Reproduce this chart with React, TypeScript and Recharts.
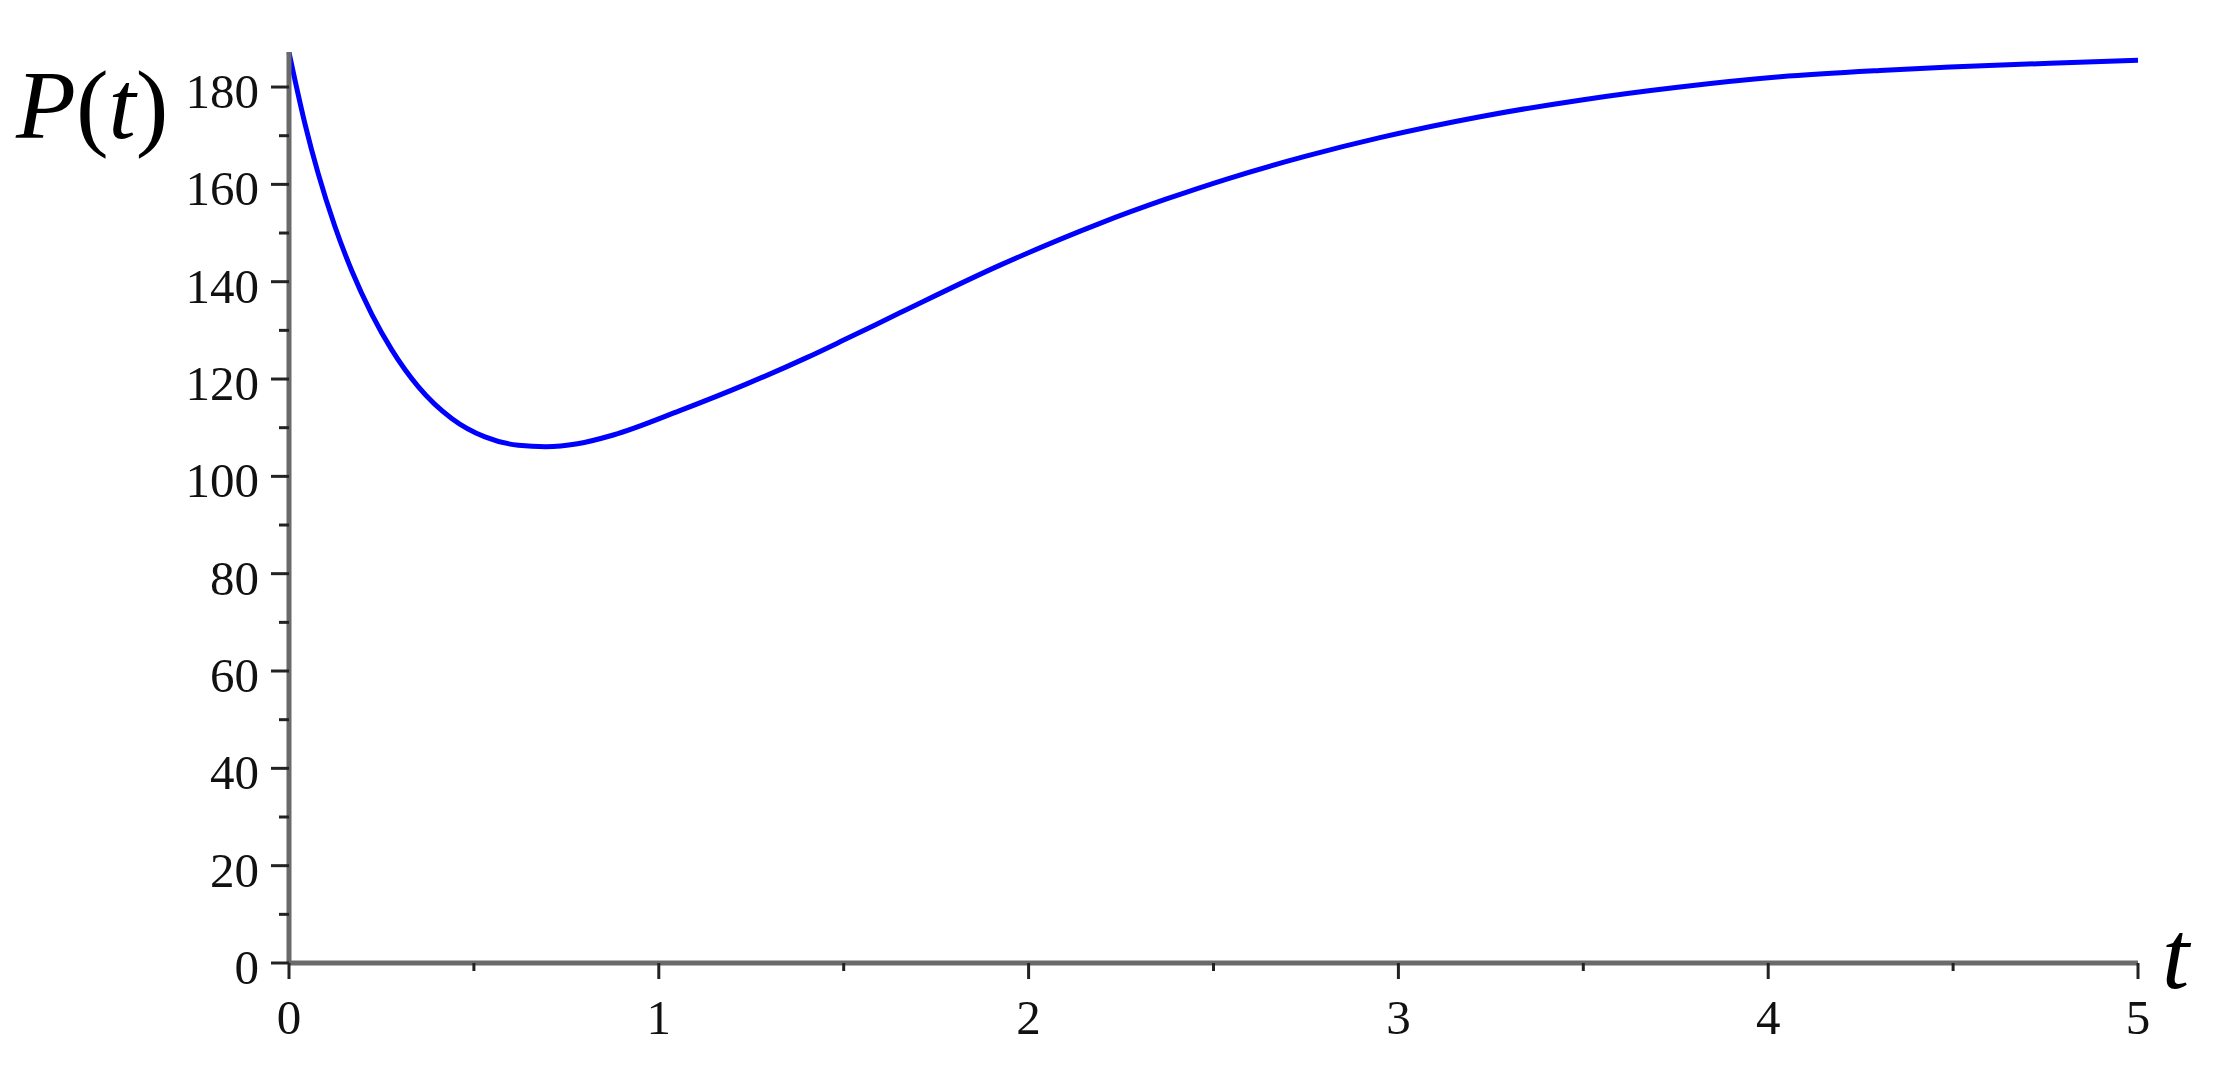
import React from "react";
import { LineChart, Line, XAxis, YAxis } from "recharts";

const tValues = [0, 0.043, 0.079, 0.124, 0.17, 0.224, 0.278, 0.35, 0.44, 0.53, 0.62, 0.695, 0.78, 0.877, 1.057, 1.238, 1.4, 1.5, 1.652, 1.923, 2.193, 2.373, 2.536, 2.75, 2.95, 3.221, 3.491, 3.761, 4.032, 4.302, 4.492, 4.762, 5];
const pValues = [187.1, 172.5, 162.2, 151.4, 142.2, 133.3, 126.0, 118.4, 111.9, 108.1, 106.4, 106.1, 106.7, 108.5, 113.5, 119.0, 124.4, 128.0, 133.6, 143.4, 152.0, 157.0, 161.1, 165.8, 169.6, 173.9, 177.3, 180.0, 182.1, 183.4, 184.1, 184.9, 185.5];

const xTicks = [0, 0.5, 1, 1.5, 2, 2.5, 3, 3.5, 4, 4.5, 5];
const xMajor = [0, 1, 2, 3, 4, 5];
const yTicks = [0, 10, 20, 30, 40, 50, 60, 70, 80, 90, 100, 110, 120, 130, 140, 150, 160, 170, 180];
const yMajor = [0, 20, 40, 60, 80, 100, 120, 140, 160, 180];

const data = tValues.map((t, i) => ({ t, p: pValues[i] }));

const FONT = "'Liberation Serif', 'Times New Roman', serif";
const TICK_COLOR = "#222";

const YTick = (props: any) => {
  const { x, y, payload } = props;
  const v = payload.value;
  const major = yMajor.includes(v);
  return (
    <g>
      <line x1={x - (major ? 18 : 10)} x2={x} y1={y} y2={y} stroke={TICK_COLOR} strokeWidth={3} />
      {major && (
        <text x={x - 30} y={y + 21} textAnchor="end" fontFamily={FONT} fontSize={49} fill="#111">
          {v}
        </text>
      )}
    </g>
  );
};

const XTick = (props: any) => {
  const { x, y, payload } = props;
  const v = payload.value;
  const major = xMajor.includes(v);
  return (
    <g>
      <line x1={x} x2={x} y1={y} y2={y + (major ? 16 : 8)} stroke={TICK_COLOR} strokeWidth={3} />
      {major && (
        <text x={x} y={y + 71} textAnchor="middle" fontFamily={FONT} fontSize={49} fill="#111">
          {v}
        </text>
      )}
    </g>
  );
};

const YLabel = () => (
  <text x={16} y={138} fontFamily={FONT} fontSize={98} fill="#000">
    <tspan fontStyle="italic">P</tspan>
    <tspan>(</tspan>
    <tspan fontStyle="italic">t</tspan>
    <tspan>)</tspan>
  </text>
);

const XLabel = () => (
  <text x={2162} y={988} fontFamily={FONT} fontSize={98} fontStyle="italic" fill="#000">
    t
  </text>
);

export default function App() {
  return (
    <div style={{ position: "absolute", left: 0, top: 0, width: 2226, height: 1081, background: "#fff" }}>
      <LineChart
        width={2226}
        height={1081}
        data={data}
        margin={{ top: 52, right: 88, bottom: 18, left: 189 }}
      >
        <XAxis
          dataKey="t"
          type="number"
          domain={[0, 5]}
          ticks={xTicks}
          interval={0}
          height={100}
          tickSize={0}
          tickMargin={0}
          tickLine={false}
          axisLine={{ stroke: "#6a6a6a", strokeWidth: 5 }}
          tick={<XTick />}
          label={{ content: <XLabel /> }}
        />
        <YAxis
          type="number"
          domain={[0, 187.2]}
          ticks={yTicks}
          interval={0}
          width={100}
          tickSize={0}
          tickMargin={0}
          tickLine={false}
          allowDataOverflow
          axisLine={{ stroke: "#6a6a6a", strokeWidth: 5 }}
          tick={<YTick />}
          label={{ content: <YLabel /> }}
        />
        <Line
          dataKey="p"
          type="monotone"
          stroke="#0000ff"
          strokeWidth={5}
          dot={false}
          isAnimationActive={false}
        />
      </LineChart>
    </div>
  );
}
